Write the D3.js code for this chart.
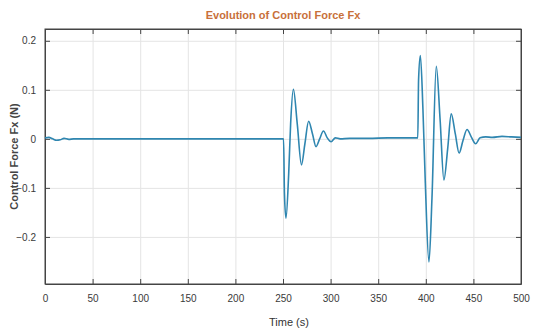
<!DOCTYPE html>
<html lang="en">
<head>
<meta charset="UTF-8">
<title>Evolution of Control Force Fx</title>
<script src="https://d3js.org/d3.v7.min.js"></script>
<style>
    body { margin: 0; background: #fff; font-family: "Liberation Sans Narrow", "Arial Narrow", "Liberation Sans", Arial, sans-serif; }
    .grid line { stroke: #e4e4e4; stroke-width: 1; }
    .grid path { display: none; }
    .axis path { stroke: #444; }
    .axis line { stroke: #444; }
    .axis text { fill: #3a3a3a; font-size: 10px; }
</style>
</head>
<body>
<div id="chart"></div>
<script>
    // time (s) and control force Fx (N)
    const time = [0, 4, 8, 12, 16, 20, 25, 30, 40, 60, 100, 150, 200, 250.6,
        251.5, 253.1, 256, 258, 260.9, 265, 269.4, 273, 276.9, 281, 284.7, 288.5, 292.5, 296.5, 300.5, 305, 310, 320, 340, 360, 380,
        391.6, 392.4, 394.3, 397, 399.5, 403.3, 406.5, 411, 415, 419, 423, 426.7, 431, 435, 439, 443.3, 448, 452.3,
        457, 463, 470, 480, 490, 500];
    const force = [0.002, 0.003, 0.000, -0.003, -0.002, 0.001, -0.001, 0.000, 0.000, 0.000, 0.000, 0.000, 0.000, 0.000,
        -0.11, -0.162, -0.07, 0.03, 0.101, 0.03, -0.053, -0.01, 0.036, 0.01, -0.016, 0.000, 0.016, 0.002, -0.006, 0.002, 0.000, 0.001, 0.001, 0.002, 0.002,
        0.002, 0.12, 0.170, 0.06, -0.09, -0.251, -0.12, 0.148, 0.04, -0.084, -0.02, 0.051, 0.01, -0.029, -0.004, 0.019, 0.003, -0.010,
        0.002, 0.004, 0.003, 0.005, 0.004, 0.003];
    const xTicks = [0, 50, 100, 150, 200, 250, 300, 350, 400, 450, 500];
    const yTicks = [-0.2, -0.1, 0, 0.1, 0.2];

    const data = time.map((t, i) => ({ t: t, f: force[i] }));

    const W = 545, H = 331;
    const margin = { top: 29, right: 24, bottom: 47, left: 45 };
    const width = W - margin.left - margin.right;
    const height = H - margin.top - margin.bottom;

    const svg = d3.select("#chart").append("svg")
        .attr("width", W)
        .attr("height", H);

    const g = svg.append("g")
        .attr("transform", `translate(${margin.left},${margin.top})`);

    const x = d3.scaleLinear().domain([0, 500]).range([0, width]);
    const y = d3.scaleLinear().domain([-0.296, 0.224]).range([height, 0]);

    // grid
    g.append("g").attr("class", "grid")
        .attr("transform", `translate(0,${height})`)
        .call(d3.axisBottom(x).tickValues(xTicks).tickSize(-height).tickFormat(""));
    g.append("g").attr("class", "grid")
        .call(d3.axisLeft(y).tickValues(yTicks).tickSize(-width).tickFormat(""));

    // axes with inward ticks on all four sides
    const fmt = d => d === 0 ? "0" : d3.format(".1f")(d);
    g.append("g").attr("class", "axis")
        .attr("transform", `translate(0,${height})`)
        .call(d3.axisBottom(x).tickValues(xTicks).tickSizeInner(-5).tickSizeOuter(0).tickPadding(11));
    g.append("g").attr("class", "axis")
        .call(d3.axisTop(x).tickValues(xTicks).tickSizeInner(-5).tickSizeOuter(0).tickFormat(""));
    g.append("g").attr("class", "axis")
        .call(d3.axisLeft(y).tickValues(yTicks).tickSizeInner(-5).tickSizeOuter(0).tickPadding(9).tickFormat(fmt));
    g.append("g").attr("class", "axis")
        .attr("transform", `translate(${width},0)`)
        .call(d3.axisRight(y).tickValues(yTicks).tickSizeInner(-5).tickSizeOuter(0).tickFormat(""));

    g.append("rect")
        .attr("width", width)
        .attr("height", height)
        .attr("fill", "none")
        .attr("stroke", "#444")
        .attr("stroke-width", 1);

    // the signal
    const line = d3.line()
        .x(d => x(d.t))
        .y(d => y(d.f))
        .curve(d3.curveMonotoneX);

    g.append("path")
        .datum(data)
        .attr("fill", "none")
        .attr("stroke", "#2f86b0")
        .attr("stroke-width", 1.6)
        .attr("d", line);

    // title and labels
    svg.append("text")
        .attr("x", margin.left + width / 2)
        .attr("y", 19)
        .attr("text-anchor", "middle")
        .attr("fill", "#c8703a")
        .attr("font-size", 11)
        .attr("font-weight", "bold")
        .text("Evolution of Control Force Fx");

    svg.append("text")
        .attr("x", margin.left + width / 2 + 6)
        .attr("y", 326)
        .attr("text-anchor", "middle")
        .attr("fill", "#333")
        .attr("font-size", 11)
        .text("Time (s)");

    svg.append("text")
        .attr("transform", `translate(18,${margin.top + height / 2}) rotate(-90)`)
        .attr("text-anchor", "middle")
        .attr("fill", "#444")
        .attr("font-size", 11)
        .attr("font-weight", "bold")
        .text("Control Force Fx (N)");
</script>
</body>
</html>
